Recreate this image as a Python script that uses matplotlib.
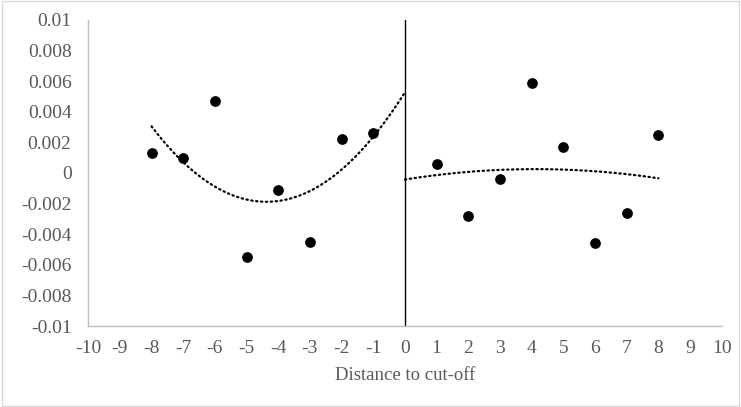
import numpy as np
import matplotlib
matplotlib.use("Agg")
import matplotlib.pyplot as plt
from matplotlib.patches import Rectangle

# Data
x_left = [-8, -7, -6, -5, -4, -3, -2, -1]
y_left = [0.0013, 0.0010, 0.0047, -0.0055, -0.0011, -0.0045, 0.0022, 0.0026]
x_right = [1, 2, 3, 4, 5, 6, 7, 8]
y_right = [0.0006, -0.0028, -0.0004, 0.0059, 0.0017, -0.0046, -0.0026, 0.0025]
x_ticks = list(range(-10, 11))
y_ticks = [-0.01, -0.008, -0.006, -0.004, -0.002, 0, 0.002, 0.004, 0.006, 0.008, 0.01]
y_tick_labels = ["-0.01", "-0.008", "-0.006", "-0.004", "-0.002", "0",
                 "0.002", "0.004", "0.006", "0.008", "0.01"]
x_tick_labels = [str(v) for v in x_ticks]
x_label = "Distance to cut-off"

plt.rcParams['font.family'] = ['Liberation Serif', 'DejaVu Serif']
plt.rcParams['axes.unicode_minus'] = False

fig = plt.figure(figsize=(7.41, 4.07), dpi=100)
ax = fig.add_axes([0.119, 0.199, 0.855, 0.752])

# Quadratic trendlines
cl = np.polyfit(x_left, y_left, 2)
xl = np.linspace(-8, 0, 200)
cr = np.polyfit(x_right, y_right, 2)
xr = np.linspace(0, 8, 200)
dot = dict(color='black', linewidth=1.6, linestyle=(0, (0.6, 1.6)),
           dash_capstyle='round')
ax.plot(xl, np.polyval(cl, xl), **dot)
ax.plot(xr, np.polyval(cr, xr), **dot)

ax.scatter(x_left, y_left, s=45, color='black', zorder=3)
ax.scatter(x_right, y_right, s=45, color='black', zorder=3)

ax.axvline(0, color='black', linewidth=1.0)

ax.set_xlim(-10, 10)
ax.set_ylim(-0.01, 0.01)
ax.set_xticks(x_ticks)
ax.set_xticklabels(x_tick_labels)
ax.set_yticks(y_ticks)
ax.set_yticklabels(y_tick_labels)
ax.tick_params(length=0, labelsize=14, colors='#595959')
ax.tick_params(axis='x', pad=10)
ax.tick_params(axis='y', pad=12)
for s in ['top', 'right']:
    ax.spines[s].set_visible(False)
for s in ['left', 'bottom']:
    ax.spines[s].set_color('#bfbfbf')
    ax.spines[s].set_linewidth(1.0)
ax.set_xlabel(x_label, fontsize=13.5, color='#595959', labelpad=7)

fig.patches.append(Rectangle((0.003, 0.003), 0.994, 0.994, transform=fig.transFigure,
                             fill=False, edgecolor='#d9d9d9', linewidth=1.0))

fig.savefig("out.png", dpi=100)
